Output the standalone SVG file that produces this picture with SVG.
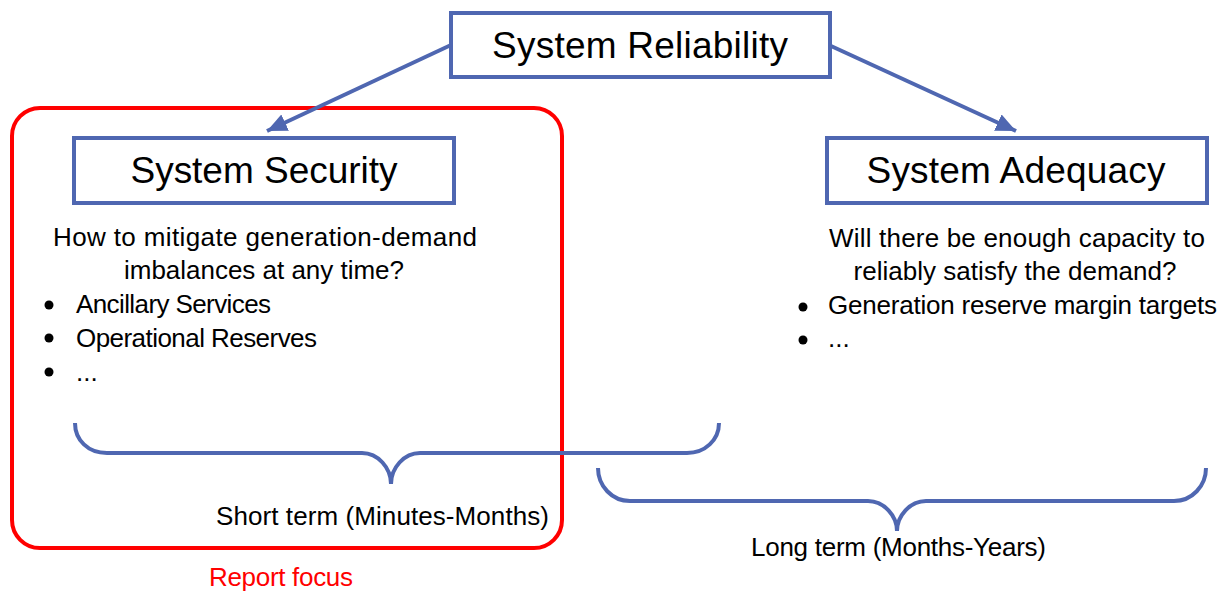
<svg xmlns="http://www.w3.org/2000/svg" width="1222" height="593" viewBox="0 0 1222 593">
<style>
.box{fill:#fff;stroke:#4F67B1;stroke-width:4}
.title{font-family:"Liberation Sans",Arial,sans-serif;font-size:37px;fill:#000;text-anchor:middle}
.body{font-family:"Liberation Sans",Arial,sans-serif;font-size:26px;fill:#000}
.mid{text-anchor:middle}
.conn{fill:none;stroke:#4F67B1;stroke-width:4}
.bul{fill:#000}
</style>
<defs>
<marker id="ah" markerUnits="userSpaceOnUse" markerWidth="22" markerHeight="20" refX="20" refY="9" orient="auto">
<path d="M0,0 L20,9 L0,18 Z" fill="#4F67B1"/>
</marker>
</defs>
<rect id="focus" x="12" y="108" width="550" height="440" rx="28" fill="none" stroke="#FF0000" stroke-width="4"/>
<g id="connectors">
<line class="conn" x1="451" y1="45" x2="267" y2="131" marker-end="url(#ah)"/>
<line class="conn" x1="831" y1="46" x2="1016" y2="131" marker-end="url(#ah)"/>
<path class="conn" d="M75,423 C75,440 88,453 107,453 L362,453 C378,453 391,468 391,484 C391,468 404,453 420,453 L687,453 C705,453 719,440 719,423"/>
<path class="conn" d="M598,468 C598,486 612,501 630,501 L868,501 C884,501 897,516 897,531 C897,516 910,501 926,501 L1174,501 C1192,501 1206,486 1206,468"/>
</g>
<g id="reliability">
<rect class="box" x="451" y="13" width="379" height="64"/>
<text class="title" x="640" y="58" textLength="296">System Reliability</text>
</g>
<g id="security">
<rect class="box" x="74" y="138" width="380" height="65"/>
<text class="title" x="264" y="183" textLength="267">System Security</text>
</g>
<g id="adequacy">
<rect class="box" x="827" y="138" width="380" height="65"/>
<text class="title" x="1016" y="183" textLength="299">System Adequacy</text>
</g>
<g id="security-text">
<text class="body mid" x="265" y="246" textLength="424">How to mitigate generation-demand</text>
<text class="body mid" x="264" y="279" textLength="280">imbalances at any time?</text>
<circle class="bul" cx="49" cy="305" r="4.5"/>
<circle class="bul" cx="49" cy="338" r="4.5"/>
<circle class="bul" cx="49" cy="372" r="4.5"/>
<text class="body" x="76" y="313" textLength="195">Ancillary Services</text>
<text class="body" x="76" y="347" textLength="241">Operational Reserves</text>
<text class="body" x="76" y="381">...</text>
</g>
<g id="adequacy-text">
<text class="body mid" x="1017" y="247" textLength="376">Will there be enough capacity to</text>
<text class="body mid" x="1015" y="280" textLength="323">reliably satisfy the demand?</text>
<circle class="bul" cx="803" cy="307" r="4.5"/>
<circle class="bul" cx="803" cy="340" r="4.5"/>
<text class="body" x="828" y="314" textLength="389">Generation reserve margin targets</text>
<text class="body" x="828" y="347">...</text>
</g>
<g id="short-term">
<text class="body" x="216" y="525" textLength="333">Short term (Minutes-Months)</text>
</g>
<g id="long-term">
<text class="body" x="751" y="556" textLength="295">Long term (Months-Years)</text>
</g>
<g id="report-focus">
<text class="body" x="209" y="586" fill="#FF0000" style="fill:#FF0000" textLength="144">Report focus</text>
</g>
</svg>
